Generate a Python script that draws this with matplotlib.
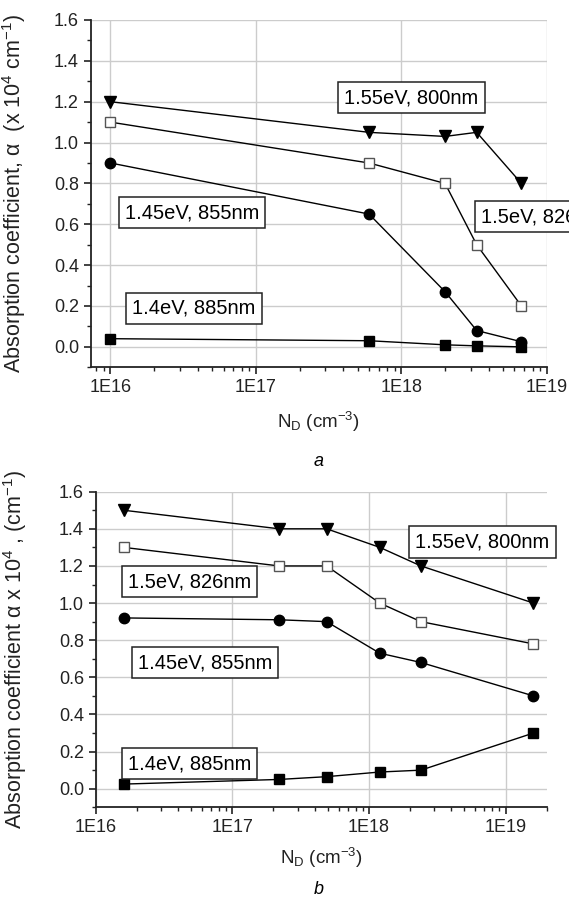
import numpy as np
import matplotlib
matplotlib.use("Agg")
import matplotlib.pyplot as plt
from matplotlib.ticker import LogLocator, FuncFormatter, MultipleLocator, NullFormatter

plt.rcParams['font.family'] = ['Liberation Sans', 'DejaVu Sans']
plt.rcParams['mathtext.fontset'] = 'custom'
plt.rcParams['mathtext.rm'] = 'Liberation Sans'
plt.rcParams['mathtext.it'] = 'Liberation Sans:italic'

# panel a
nd_a = [1e16, 6e17, 2e18, 3.3e18, 6.7e18]
a_155 = [1.20, 1.05, 1.03, 1.05, 0.80]
a_150 = [1.10, 0.90, 0.80, 0.50, 0.20]
a_145 = [0.90, 0.65, 0.27, 0.08, 0.025]
a_140 = [0.04, 0.03, 0.01, 0.005, 0.0]

# panel b
nd_b = [1.6e16, 2.2e17, 4.9e17, 1.2e18, 2.4e18, 1.6e19]
b_155 = [1.50, 1.40, 1.40, 1.30, 1.20, 1.00]
b_150 = [1.30, 1.20, 1.20, 1.00, 0.90, 0.78]
b_145 = [0.92, 0.91, 0.90, 0.73, 0.68, 0.50]
b_140 = [0.025, 0.05, 0.065, 0.09, 0.10, 0.30]

labels = ["1.55eV, 800nm", "1.5eV, 826nm", "1.45eV, 855nm", "1.4eV, 885nm"]

fig = plt.figure(figsize=(5.69, 9.0), dpi=100)
ax1 = fig.add_axes([0.1594, 0.5919, 0.8014, 0.3859])
ax2 = fig.add_axes([0.1682, 0.1030, 0.7926, 0.3507])

box = dict(boxstyle='square,pad=0.3', fc='white', ec='#222222', lw=1.1)
lab_fs = 14.5


def draw(ax, x, s155, s150, s145, s140):
    ax.plot(x, s155, '-v', color='black', lw=1, ms=8.5, mfc='black', zorder=3)
    ax.plot(x, s150, '-s', color='black', lw=1, ms=6.5, mfc='white', mec='#555555', zorder=3)
    ax.plot(x, s145, '-o', color='black', lw=1, ms=7.5, mfc='black', zorder=3)
    ax.plot(x, s140, '-s', color='black', lw=1, ms=7, mfc='black', zorder=3)
    ax.set_xscale('log')
    ax.set_ylim(-0.1, 1.6)
    ax.yaxis.set_major_locator(MultipleLocator(0.2))
    ax.yaxis.set_minor_locator(MultipleLocator(0.1))
    ax.yaxis.set_major_formatter(FuncFormatter(lambda v, p: '%.1f' % v))
    ax.xaxis.set_major_locator(LogLocator(base=10))
    ax.xaxis.set_minor_locator(LogLocator(base=10, subs=np.arange(2, 10)))
    ax.xaxis.set_minor_formatter(NullFormatter())
    ax.xaxis.set_major_formatter(FuncFormatter(lambda v, p: '1E%d' % round(np.log10(v))))
    ax.grid(True, which='major', color='#cccccc', lw=1)
    ax.set_axisbelow(True)
    for s in ['top', 'right']:
        ax.spines[s].set_visible(False)
    for s in ['left', 'bottom']:
        ax.spines[s].set_linewidth(1.3)
        ax.spines[s].set_color('#222222')
    ax.tick_params(which='major', direction='out', length=5, width=1.2, labelsize=13, color='#222222',
                   labelcolor='#222222')
    ax.tick_params(which='minor', direction='out', length=3, width=1, color='#222222')
    ax.set_xlabel(r'N$\mathregular{_D}$ (cm$\mathregular{^{-3}}$)', fontsize=13.5, color='#222222')


draw(ax1, nd_a, a_155, a_150, a_145, a_140)
ax1.set_xlim(10 ** 15.864, 1e19)
ax1.set_ylabel('Absorption coefficient, \u03b1  (x 10$\\mathregular{^4}$ cm$\\mathregular{^{-1}}$)',
               fontsize=15.5, color='#222222')
ax1.yaxis.set_label_coords(-0.137, 0.5)
ax1.xaxis.set_label_coords(0.5, -0.122)
ax1.text(10 ** 18.07, 1.22, labels[0], fontsize=lab_fs, ha='center', va='center', bbox=box, zorder=5)
ax1.text(10 ** 18.55, 0.636, labels[1], fontsize=lab_fs, ha='left', va='center', bbox=box, zorder=5, clip_on=False)
ax1.text(10 ** 16.56, 0.657, labels[2], fontsize=lab_fs, ha='center', va='center', bbox=box, zorder=5)
ax1.text(10 ** 16.573, 0.19, labels[3], fontsize=lab_fs, ha='center', va='center', bbox=box, zorder=5)
fig.text(0.5604, 1 - 461.7 / 900, 'a', fontsize=13, style='italic', ha='center', va='center')

draw(ax2, nd_b, b_155, b_150, b_145, b_140)
ax2.set_xlim(1e16, 2e19)
ax2.set_ylabel('Absorption coefficient \u03b1 x 10$\\mathregular{^4}$ , (cm$\\mathregular{^{-1}}$)',
               fontsize=15.5, color='#222222')
ax2.yaxis.set_label_coords(-0.148, 0.5)
ax2.xaxis.set_label_coords(0.5, -0.122)
ax2.text(10 ** 18.83, 1.329, labels[0], fontsize=lab_fs, ha='center', va='center', bbox=box, zorder=5)
ax2.text(10 ** 16.687, 1.115, labels[1], fontsize=lab_fs, ha='center', va='center', bbox=box, zorder=5)
ax2.text(10 ** 16.799, 0.678, labels[2], fontsize=lab_fs, ha='center', va='center', bbox=box, zorder=5)
ax2.text(10 ** 16.686, 0.135, labels[3], fontsize=lab_fs, ha='center', va='center', bbox=box, zorder=5)
fig.text(0.5604, 1 - 889 / 900, 'b', fontsize=13, style='italic', ha='center', va='center')

fig.savefig('out.png', dpi=100)
